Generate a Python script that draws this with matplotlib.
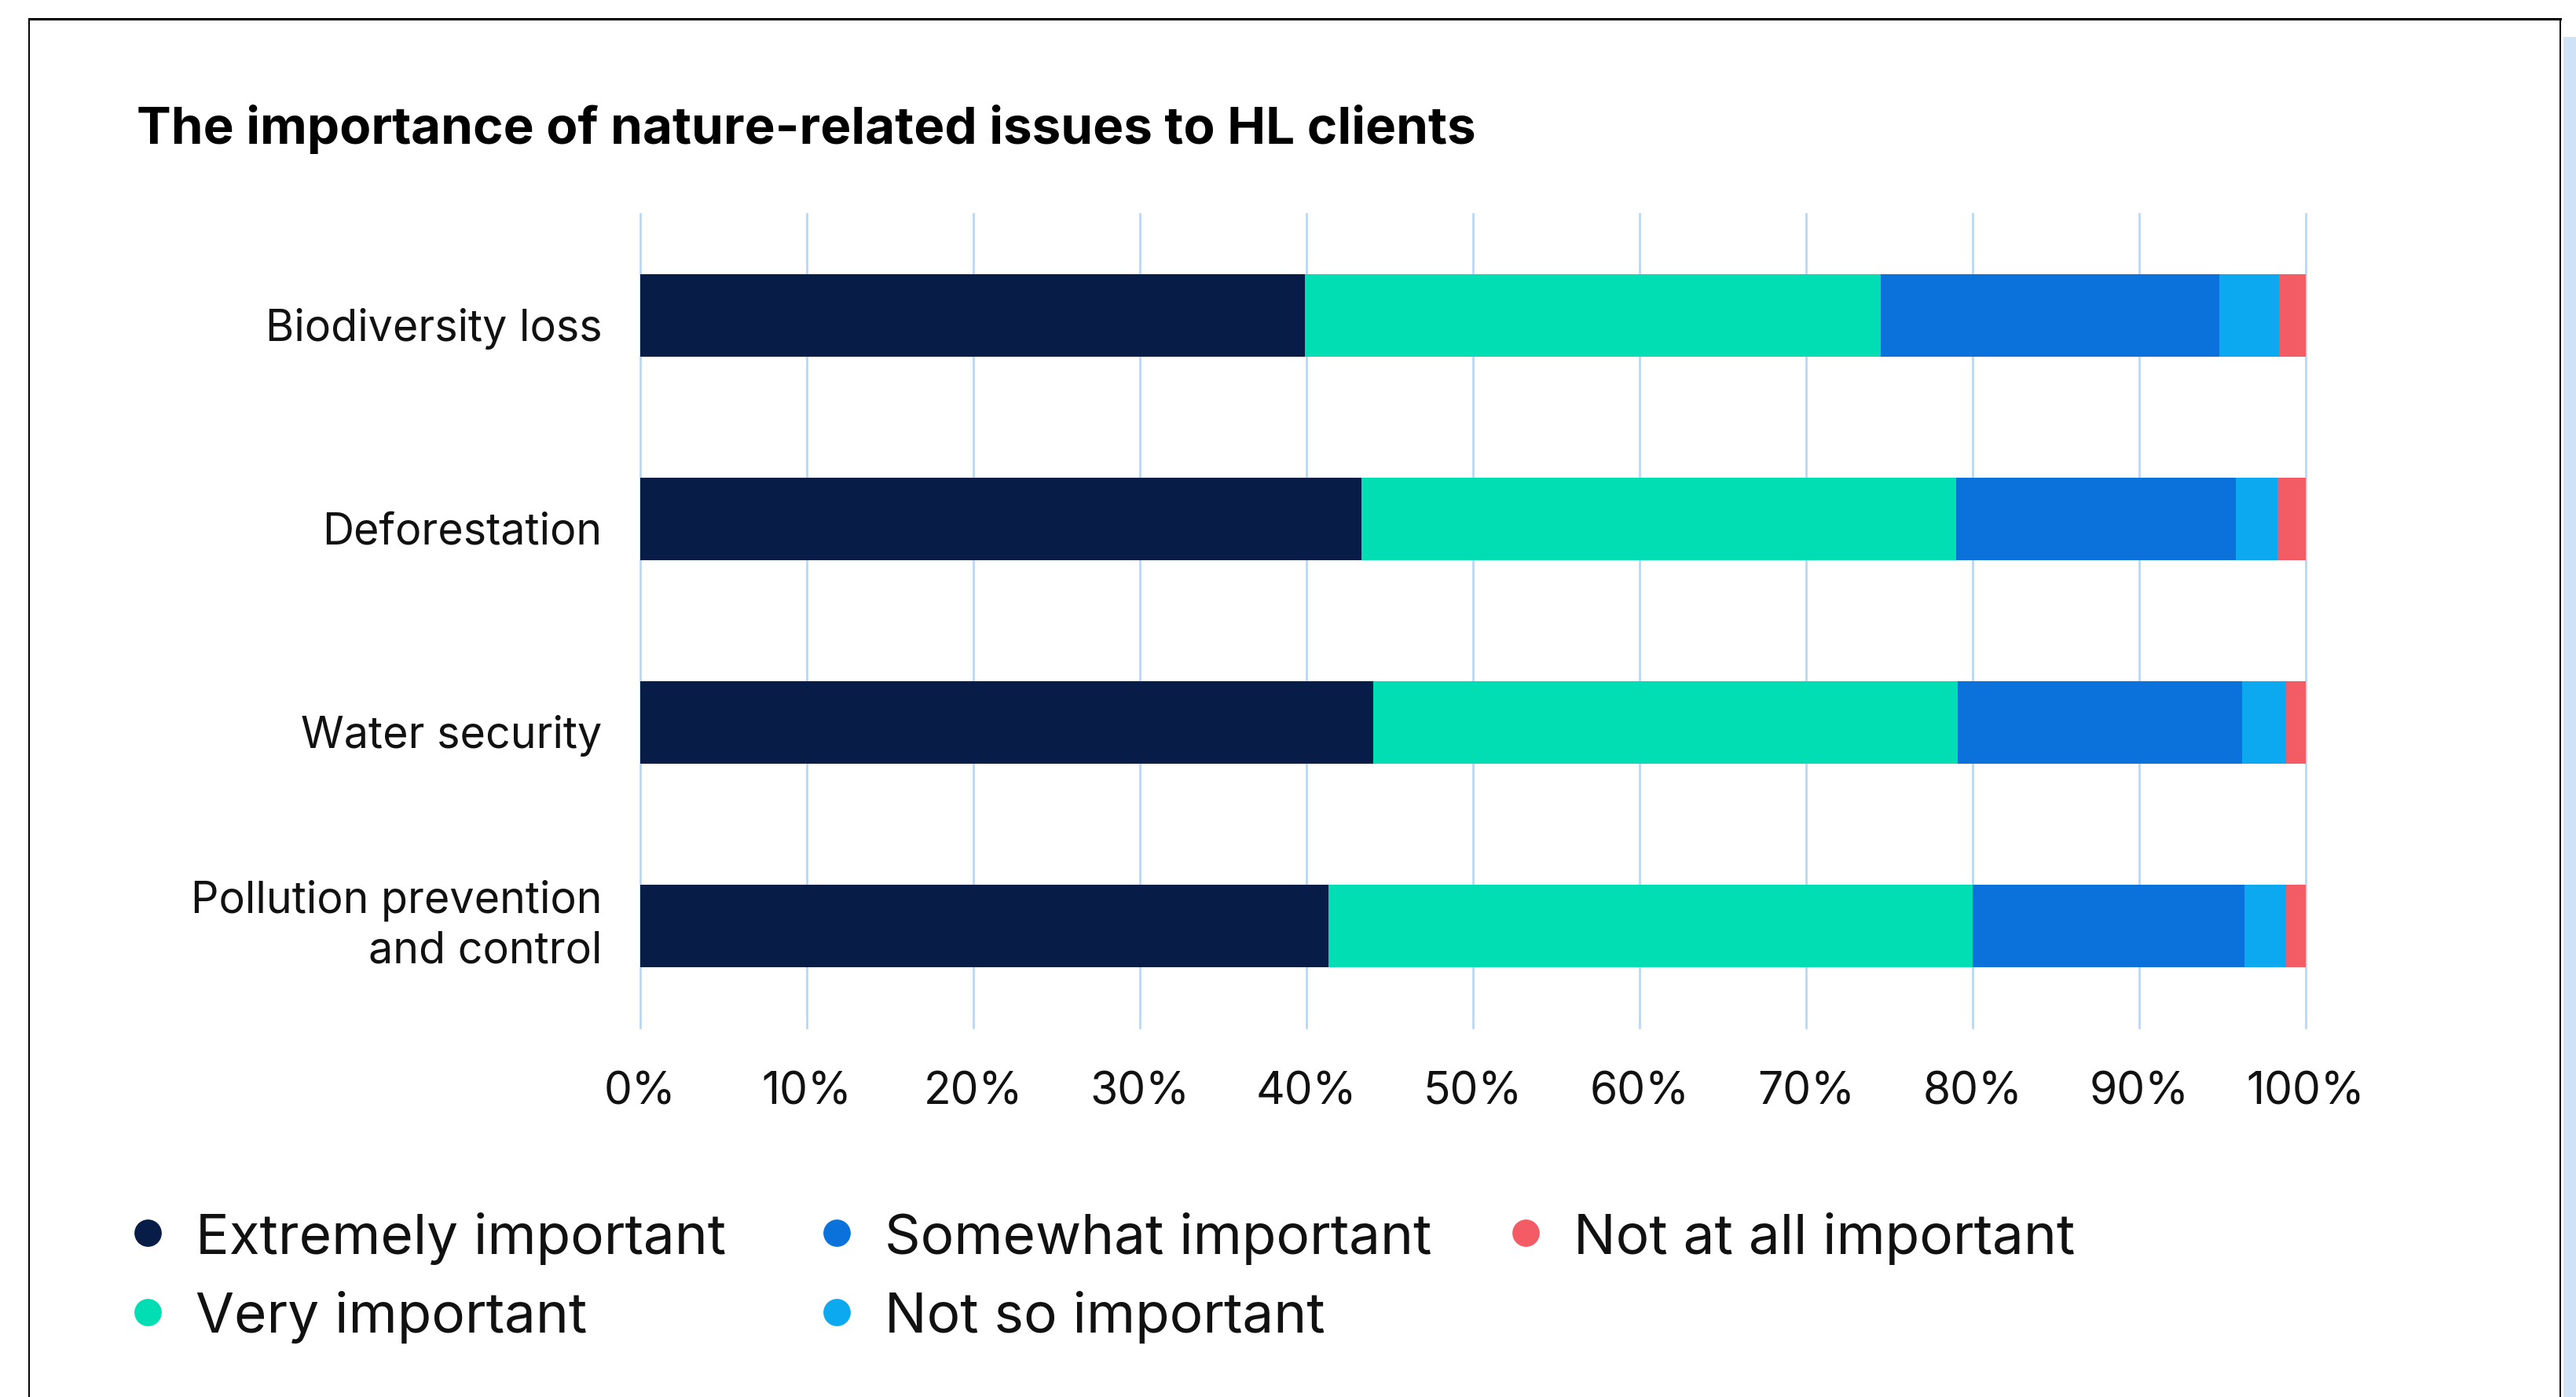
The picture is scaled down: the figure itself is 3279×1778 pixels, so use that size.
import matplotlib
matplotlib.use("Agg")
import matplotlib.pyplot as plt
from matplotlib.lines import Line2D
from matplotlib.patches import Rectangle
from matplotlib.transforms import ScaledTranslation

plt.rcParams['font.family'] = ['Inter', 'DejaVu Sans']

categories = ["Biodiversity loss", "Deforestation", "Water security",
              "Pollution prevention\nand control"]
series_labels = ["Extremely important", "Very important", "Somewhat important",
                 "Not so important", "Not at all important"]
extremely = [39.9, 43.3, 44.0, 41.3]
very = [34.6, 35.7, 35.1, 38.7]
somewhat = [20.3, 16.8, 17.1, 16.3]
not_so = [3.6, 2.5, 2.6, 2.5]
not_at_all = [1.6, 1.7, 1.2, 1.2]
colors = ["#071c47", "#02deb4", "#0b72db", "#0ca9f1", "#f35c65"]
ticks = [0, 10, 20, 30, 40, 50, 60, 70, 80, 90, 100]

W, H = 3280, 1778
fig = plt.figure(figsize=(W / 100, H / 100), dpi=100)

# page frame and side strip
fig.add_artist(Rectangle((3263 / W, 0), 17 / W, 1 - 47 / H, transform=fig.transFigure,
                         facecolor="#cfe2f6", edgecolor="none"))
fig.add_artist(Line2D([37 / W, 37 / W], [0, 1 - 24 / H], transform=fig.transFigure,
                      color="black", lw=1.4))
fig.add_artist(Line2D([3259 / W, 3259 / W], [0, 1 - 24 / H], transform=fig.transFigure,
                      color="black", lw=1.4))
fig.add_artist(Line2D([37 / W, 3259 / W], [1 - 24 / H, 1 - 24 / H], transform=fig.transFigure,
                      color="black", lw=2.2))

ax = fig.add_axes([815 / W, 1 - 1308 / H, 2120 / W, 1036 / H])

values = [extremely, very, somewhat, not_so, not_at_all]
y = list(range(len(categories)))
left = [0] * len(categories)
for vals, lab, col in zip(values, series_labels, colors):
    ax.barh(y, vals, left=left, height=0.405, color=col, label=lab, zorder=3)
    left = [a + b for a, b in zip(left, vals)]

ax.set_xlim(0, 100)
ax.set_ylim(len(categories) - 0.5, -0.5)
ax.set_xticks(ticks)
ax.set_xticklabels([f"{t}%" for t in ticks])
ax.set_yticks(y)
ax.set_yticklabels(categories, ha="right", linespacing=1.3)
ax.tick_params(axis="x", length=0, pad=40, labelsize=41, labelcolor="#111111")
ax.tick_params(axis="y", length=0, pad=35, labelsize=40, labelcolor="#111111")
for lbl in ax.get_yticklabels():
    dy = 8.5 / 72 if "\n" in lbl.get_text() else -8 / 72
    lbl.set_transform(lbl.get_transform() + ScaledTranslation(0, dy, fig.dpi_scale_trans))
for t in ticks:
    ax.axvline(t, color="#b9d5f3", lw=1.9, zorder=1, clip_on=False)
for s in ax.spines.values():
    s.set_visible(False)

fig.text(174 / W, 1 - 183 / H, "The importance of nature-related issues to HL clients",
         fontsize=47.2, fontweight="bold", color="black", va="baseline", ha="left")

# legend laid out in columns of two
for i, (lab, col) in enumerate(zip(series_labels, colors)):
    cx = (188 + (i // 2) * 877) / W
    cy = 1 - (1569 + (i % 2) * 101) / H
    fig.add_artist(Line2D([cx], [cy], transform=fig.transFigure, marker="o",
                          markersize=24, color=col, linestyle="none"))
    fig.text(cx + 61 / W, cy, lab, fontsize=51.2, color="#111111", va="center_baseline", ha="left")

fig.savefig("out.png", dpi=100, facecolor="white")
